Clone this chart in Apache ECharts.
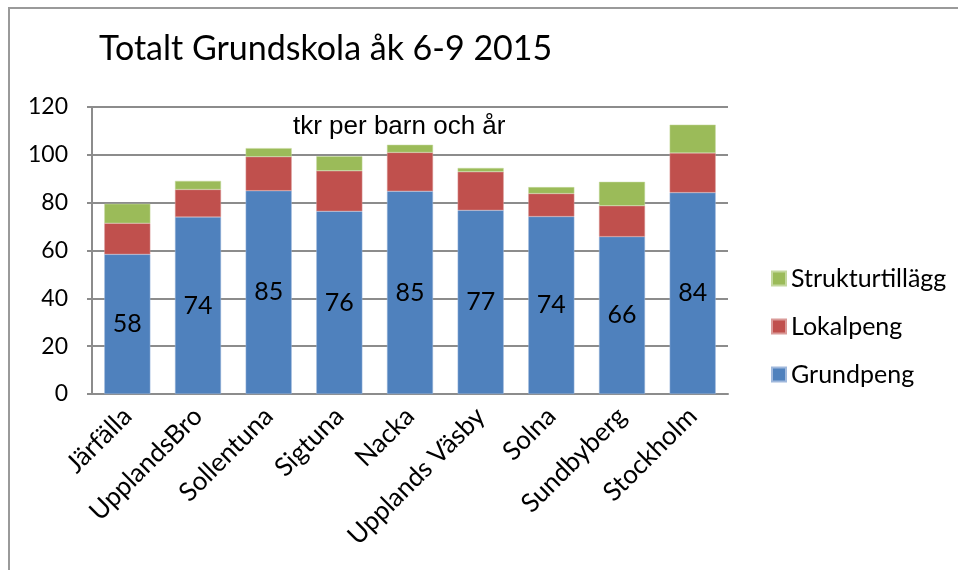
<!DOCTYPE html>
<html>
<head>
<meta charset="utf-8">
<script src="https://cdn.jsdelivr.net/npm/echarts@6/dist/echarts.min.js"></script>
<style>
  html, body { margin: 0; padding: 0; background: #fff; }
  #chart { width: 958px; height: 570px; }
</style>
</head>
<body>
<div id="chart"></div>
<script>
const kommuner = ['Järfälla', 'UpplandsBro', 'Sollentuna', 'Sigtuna', 'Nacka', 'Upplands Väsby', 'Solna', 'Sundbyberg', 'Stockholm'];
const grundpeng = [58.4, 74, 85, 76.4, 84.8, 76.8, 74.2, 65.8, 84.2];
const lokalpeng = [13, 11.5, 14.2, 16.9, 16.2, 16.1, 9.6, 12.9, 16.6];
const strukturtillagg = [8.1, 3.6, 3.6, 6.1, 3.2, 1.6, 2.7, 10, 11.8];
const yTicks = [0, 20, 40, 60, 80, 100, 120];

const font = 'Lato, "DejaVu Sans", sans-serif';

let chart = echarts.init(document.getElementById('chart'));
chart.setOption({
    animation: false,
    textStyle: { fontFamily: font, color: '#000' },
    title: [
        {
            text: 'Totalt Grundskola åk 6-9 2015',
            left: 94, top: 27,
            textStyle: { fontFamily: font, fontSize: 34, fontWeight: 'normal', color: '#000' }
        },
        {
            text: 'tkr per barn och år',
            left: 288, top: 109,
            textStyle: { fontFamily: '"Liberation Sans", Arial, sans-serif', fontSize: 26, fontWeight: 'normal', color: '#000' }
        }
    ],
    graphic: [{
        type: 'rect',
        shape: { x: 9, y: 8, width: 1000, height: 700 },
        style: { fill: 'none', stroke: '#9a9a9a', lineWidth: 2 },
        silent: true
    }],
    legend: {
        orient: 'vertical',
        left: 766, top: 261,
        itemWidth: 14, itemHeight: 14, itemGap: 23,
        icon: 'rect',
        data: ['Strukturtillägg', 'Lokalpeng', 'Grundpeng'],
        textStyle: { fontFamily: font, fontSize: 25, color: '#000' }
    },
    grid: { left: 92, right: 230, top: 107, bottom: 176, containLabel: false },
    xAxis: {
        type: 'category',
        data: kommuner,
        axisLine: { lineStyle: { color: '#8c8c8c', width: 2 } },
        axisTick: { show: false },
        axisLabel: { rotate: 45, interval: 0, fontSize: 26, color: '#000', margin: 18, fontFamily: font }
    },
    yAxis: {
        type: 'value',
        min: yTicks[0], max: yTicks[yTicks.length - 1], interval: 20,
        axisLine: { show: true, lineStyle: { color: '#8c8c8c', width: 2 } },
        axisTick: { show: true, length: 5, lineStyle: { color: '#8c8c8c', width: 2 } },
        splitLine: { lineStyle: { color: '#8c8c8c', width: 2 } },
        axisLabel: { fontSize: 23, color: '#000', margin: 24, fontFamily: font }
    },
    series: [
        {
            name: 'Grundpeng', type: 'bar', stack: 'tot', barWidth: 46,
            itemStyle: { color: '#4F81BD', borderColor: '#9fb8dc', borderWidth: 0.5 },
            label: {
                show: true, position: 'inside', fontSize: 25, color: '#000', fontFamily: font,
                formatter: p => Math.round(p.value)
            },
            data: grundpeng
        },
        {
            name: 'Lokalpeng', type: 'bar', stack: 'tot',
            itemStyle: { color: '#C0504D', borderColor: '#d99a98', borderWidth: 0.5 },
            data: lokalpeng
        },
        {
            name: 'Strukturtillägg', type: 'bar', stack: 'tot',
            itemStyle: { color: '#9BBB59', borderColor: '#c4d89e', borderWidth: 0.5 },
            data: strukturtillagg
        }
    ]
});
</script>
</body>
</html>
